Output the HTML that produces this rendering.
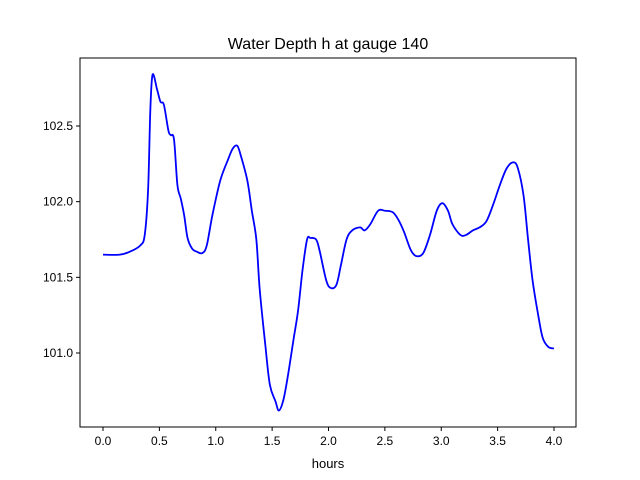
<!DOCTYPE html>
<html><head><meta charset="utf-8"><style>
body{margin:0;background:#fff;}
svg{display:block;font-family:"Liberation Sans","DejaVu Sans",sans-serif;}
</style></head><body>
<svg id="chart" width="640" height="480" viewBox="0 0 640 480">
<rect width="640" height="480" fill="#fff"/>
<text x="328" y="49" text-anchor="middle" font-size="16">Water Depth h at gauge 140</text>
<g id="axes"></g>
<text x="328" y="468" text-anchor="middle" font-size="13">hours</text>
</svg>
<script>
const hours=[0,0.15,0.24,0.33,0.37,0.40,0.42,0.44,0.48,0.51,0.54,0.58,0.60,0.63,0.66,0.69,0.72,0.75,0.79,0.83,0.88,0.92,0.97,1.04,1.11,1.15,1.19,1.22,1.28,1.32,1.36,1.39,1.44,1.48,1.53,1.56,1.60,1.64,1.69,1.73,1.77,1.81,1.84,1.89,1.92,1.98,2.02,2.07,2.11,2.16,2.21,2.28,2.32,2.37,2.44,2.50,2.57,2.62,2.67,2.73,2.78,2.84,2.90,2.96,3.01,3.06,3.10,3.17,3.22,3.28,3.34,3.40,3.46,3.52,3.58,3.64,3.68,3.73,3.77,3.81,3.86,3.90,3.95,4.0];
const depth=[101.65,101.65,101.67,101.71,101.78,102.08,102.61,102.84,102.74,102.66,102.64,102.47,102.44,102.41,102.11,102.02,101.91,101.76,101.69,101.67,101.66,101.71,101.91,102.14,102.28,102.35,102.37,102.31,102.14,101.94,101.75,101.42,101.05,100.79,100.68,100.62,100.69,100.85,101.09,101.28,101.55,101.75,101.76,101.75,101.68,101.48,101.43,101.45,101.58,101.75,101.81,101.83,101.81,101.85,101.94,101.94,101.93,101.88,101.80,101.68,101.64,101.66,101.78,101.94,101.99,101.94,101.85,101.78,101.78,101.81,101.83,101.87,101.98,102.11,102.22,102.26,102.22,102.04,101.75,101.48,101.25,101.10,101.04,101.03];
const xTicks=[0.0,0.5,1.0,1.5,2.0,2.5,3.0,3.5,4.0];
const yTicks=[101.0,101.5,102.0,102.5];
const L=80,R=576,T=58,B=427;
const X=t=>103+t*112.75;
const Y=v=>353-(v-101)*151.33;
const NS="http://www.w3.org/2000/svg";
const g=document.getElementById('axes');
function mk(tag,attrs){const e=document.createElementNS(NS,tag);for(const k in attrs)e.setAttribute(k,attrs[k]);g.appendChild(e);return e;}
// line (Catmull-Rom smoothed)
const pts=hours.map((h,i)=>[X(h),Y(depth[i])]);
let d="M"+pts[0][0]+","+pts[0][1];
for(let i=0;i<pts.length-1;i++){
 const p0=pts[Math.max(0,i-1)],p1=pts[i],p2=pts[i+1],p3=pts[Math.min(pts.length-1,i+2)];
 const c1=[p1[0]+(p2[0]-p0[0])/6,p1[1]+(p2[1]-p0[1])/6];
 const c2=[p2[0]-(p3[0]-p1[0])/6,p2[1]-(p3[1]-p1[1])/6];
 d+=` C${c1[0]},${c1[1]} ${c2[0]},${c2[1]} ${p2[0]},${p2[1]}`;
}
const line=mk('path',{d:d,fill:'none',stroke:'#0000ff','stroke-width':1.8,'stroke-linejoin':'round'});


const frame=mk('rect',{x:L,y:T,width:R-L,height:B-T,fill:'none',stroke:'#000','stroke-width':1});


xTicks.forEach(t=>{
 const tk=mk('line',{x1:X(t),x2:X(t),y1:B,y2:B+4,stroke:'#000'});
 
 
 const lb=mk('text',{x:X(t),y:B+18,'text-anchor':'middle','font-size':12});
 lb.textContent=t.toFixed(1);
 
 
});
yTicks.forEach(v=>{
 const tk=mk('line',{x1:L-4,x2:L,y1:Y(v),y2:Y(v),stroke:'#000'});
 
 
 const lb=mk('text',{x:L-7,y:Y(v)+4,'text-anchor':'end','font-size':12});
 lb.textContent=v.toFixed(1);
 
 
});
</script>
</body></html>
